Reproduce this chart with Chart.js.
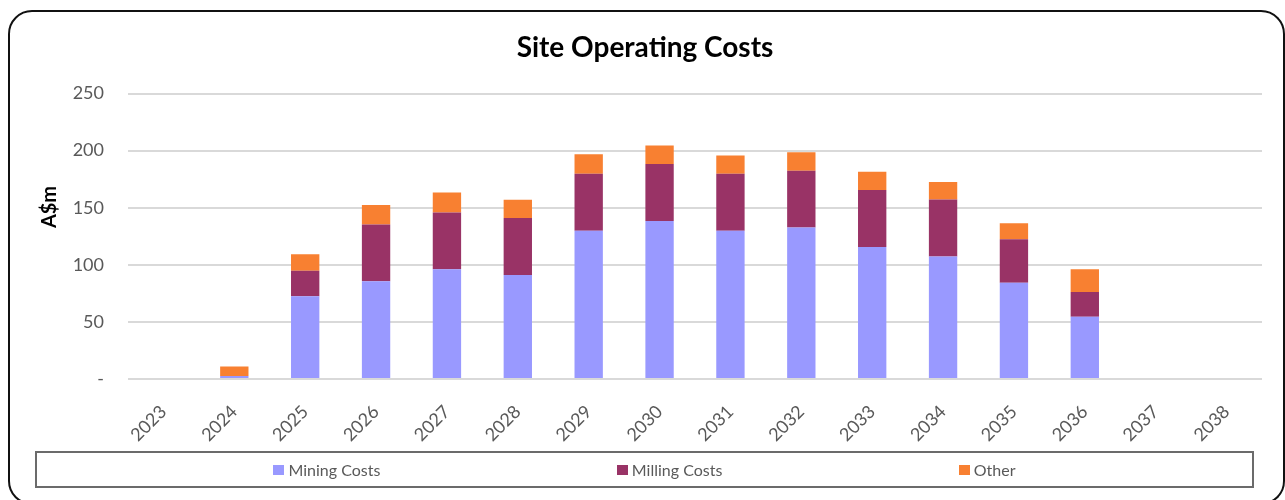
<!DOCTYPE html>
<html lang="en">
<head>
  <meta charset="UTF-8">
  <title>Site Operating Costs</title>
  <script src="https://cdn.jsdelivr.net/npm/chart.js"></script>
  <style>
    html, body {
      margin: 0;
      padding: 0;
      background: #fff;
      overflow: hidden;
    }
    .wrap {
      position: relative;
      width: 1285px;
      height: 500px;
    }
    .frame {
      position: absolute;
      left: 8px;
      top: 10px;
      width: 1277px;
      height: 495px;
      box-sizing: border-box;
      border: 2px solid #111;
      border-radius: 24px;
      pointer-events: none;
    }
    canvas {
      position: absolute;
      left: 0;
      top: 0;
    }
    .legend-box {
      position: absolute;
      left: 35px;
      top: 451px;
      width: 1219px;
      height: 37px;
      box-sizing: border-box;
      border: 2px solid #6b6b6b;
      display: flex;
      justify-content: space-evenly;
      align-items: center;
      font-family: Lato, sans-serif;
      font-size: 16px;
      color: #595959;
    }
    .legend-item {
      display: flex;
      align-items: center;
    }
    .legend-item span.sw {
      display: inline-block;
      width: 11px;
      height: 10px;
      margin-right: 4px;
    }
  </style>
</head>
<body>
  <div class="wrap">
    <canvas id="costChart" width="1285" height="500"></canvas>
    <div class="legend-box" id="legend"></div>
    <div class="frame"></div>
  </div>

  <script>
    // Years on the x axis
    const years = ['2023', '2024', '2025', '2026', '2027', '2028', '2029', '2030',
                   '2031', '2032', '2033', '2034', '2035', '2036', '2037', '2038'];

    // A$m per year
    const miningCosts = [0, 2.6, 72.4, 85.6, 96.1, 91.1, 129.8, 138.3, 129.8, 132.7, 115.7, 107.2, 84.4, 54.5, 0, 0];
    const millingCosts = [0, 0, 22.5, 49.7, 49.8, 49.9, 50.1, 50.1, 50.1, 49.8, 49.9, 50.0, 38.1, 21.7, 0, 0];
    const otherCosts = [0, 8.3, 14.4, 17.1, 17.5, 16.0, 16.9, 16.1, 15.8, 16.1, 16.0, 15.3, 14.0, 19.9, 0, 0];

    const tickColor = '#595959';

    // y axis title drawn off-centre, like the original
    const yTitlePlugin = {
      id: 'yTitle',
      afterDraw(chart) {
        const ctx = chart.ctx;
        ctx.save();
        ctx.translate(50, 207);
        ctx.rotate(-Math.PI / 2);
        ctx.font = 'bold 20px Lato, sans-serif';
        ctx.fillStyle = '#000';
        ctx.textAlign = 'center';
        ctx.textBaseline = 'middle';
        ctx.fillText('A$m', 0, 0);
        ctx.restore();
      }
    };

    const ctx = document.getElementById('costChart').getContext('2d');

    const chart = new Chart(ctx, {
      type: 'bar',
      data: {
        labels: years,
        datasets: [
          { label: 'Mining Costs', data: miningCosts, backgroundColor: '#9999ff' },
          { label: 'Milling Costs', data: millingCosts, backgroundColor: '#993366' },
          { label: 'Other', data: otherCosts, backgroundColor: '#f88031' }
        ]
      },
      options: {
        responsive: false,
        animation: false,
        layout: {
          padding: { top: 0, left: 28, right: 23, bottom: 49 }
        },
        datasets: {
          bar: { barPercentage: 0.4, categoryPercentage: 1.0 }
        },
        plugins: {
          legend: { display: false },
          tooltip: { enabled: false },
          title: {
            display: true,
            text: 'Site Operating Costs',
            color: '#000',
            font: { family: 'Lato, sans-serif', size: 28, weight: 'bold' },
            padding: { top: 31, bottom: 29 }
          }
        },
        scales: {
          x: {
            stacked: true,
            grid: { display: false },
            border: { display: false },
            ticks: {
              color: tickColor,
              font: { family: 'Lato, sans-serif', size: 18 },
              minRotation: 45,
              maxRotation: 45,
              padding: 14
            },
            afterFit(scale) { scale.height = 72; }
          },
          y: {
            stacked: true,
            min: 0,
            max: 250,
            border: { display: false },
            grid: { color: '#d9d9d9', lineWidth: 2, drawTicks: false },
            ticks: {
              stepSize: 50,
              color: tickColor,
              font: { family: 'Lato, sans-serif', size: 18 },
              padding: 24,
              callback: v => v === 0 ? '-' : v
            },
            afterFit(scale) { scale.width = 100; }
          }
        }
      },
      plugins: [yTitlePlugin]
    });

    // Legend built from the chart's own datasets
    const legendEl = document.getElementById('legend');
    chart.data.datasets.forEach(ds => {
      const item = document.createElement('div');
      item.className = 'legend-item';
      item.innerHTML = '<span class="sw" style="background:' + ds.backgroundColor + '"></span>' + ds.label;
      legendEl.appendChild(item);
    });
  </script>
</body>
</html>
